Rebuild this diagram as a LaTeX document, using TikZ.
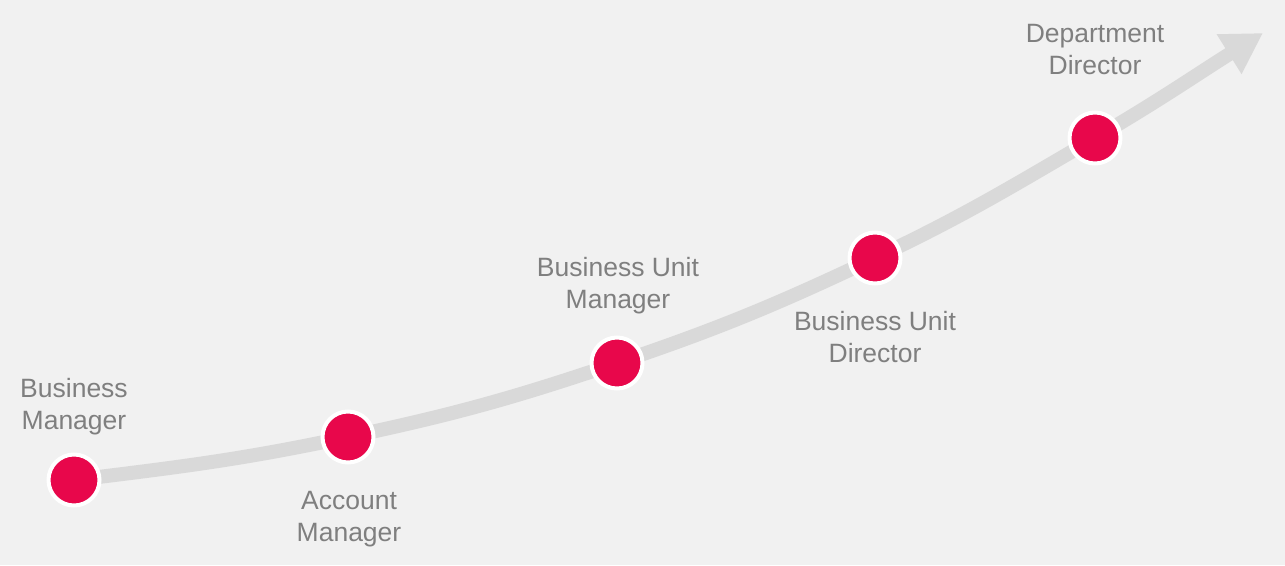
\documentclass[tikz,border=0pt]{standalone}
\usepackage{fontspec}
\setmainfont{Liberation Sans}
\usetikzlibrary{arrows.meta,backgrounds}
\definecolor{bg}{HTML}{F1F1F1}
\definecolor{dotred}{HTML}{E8074B}
\definecolor{track}{HTML}{D9D9D9}
\definecolor{labelgray}{HTML}{7F7F7F}
\tikzset{
  dot/.style={circle,draw=white,line width=4pt,fill=dotred,minimum size=51pt,inner sep=0pt},
  lbl/.style={align=center,text=labelgray,font=\fontsize{26.5}{32}\selectfont,inner sep=0pt},
  conn/.style={draw=track,line width=14pt,-{Triangle[length=40pt,width=44pt]}}
}
\begin{document}
\begin{tikzpicture}[x=1pt,y=1pt]
\useasboundingbox (0,0) rectangle (1285,-565);
\node[dot] (n1) at (74,-480) {};
\node[dot] (n2) at (348,-437) {};
\node[dot] (n3) at (617,-363) {};
\node[dot] (n4) at (875,-258) {};
\node[dot] (n5) at (1095,-138) {};
\coordinate (tip) at (1263,-33);
\node[lbl] (l1) at (74,-407) {Business\\Manager};
\node[lbl] (l2) at (349,-519) {Account\\Manager};
\node[lbl] (l3) at (618,-286) {Business Unit\\Manager};
\node[lbl] (l4) at (875,-337) {Business Unit\\Director};
\node[lbl] (l5) at (1095,-50) {Department\\Director};
\begin{scope}[on background layer]
\fill[bg] (0,0) rectangle (1285,-565);
\draw[conn] (n1.center) to[out=7,in=192] (n2.center)
  to[out=12,in=198.7] (n3.center)
  to[out=18.7,in=205.3] (n4.center)
  to[out=25.3,in=210.3] (n5.center)
  to[out=30.3,in=212] (tip);
\end{scope}
\end{tikzpicture}
\end{document}
